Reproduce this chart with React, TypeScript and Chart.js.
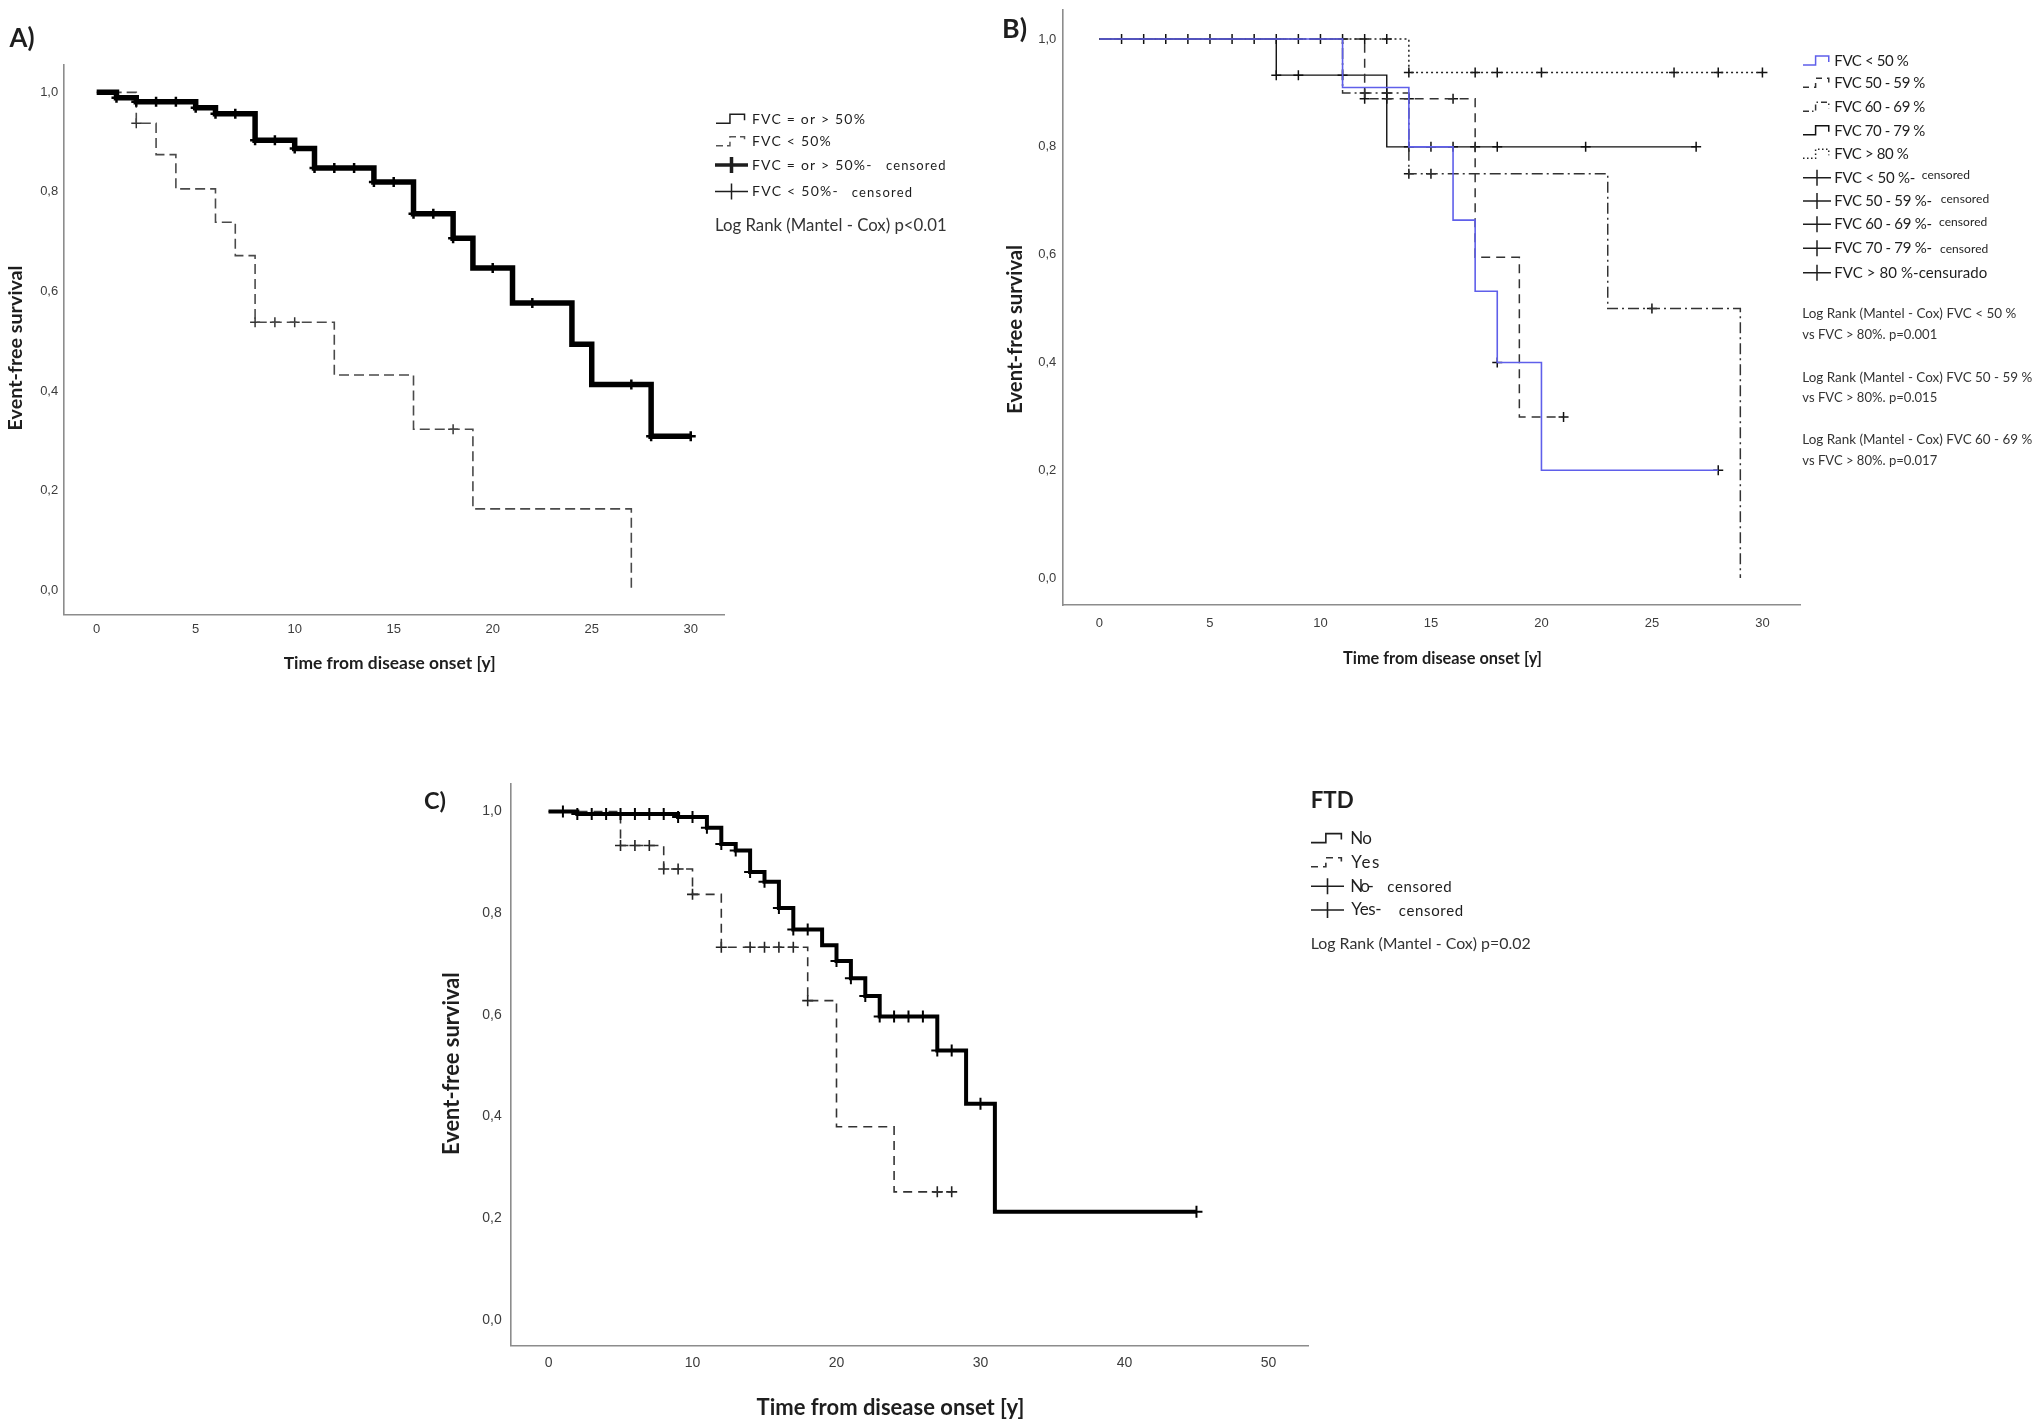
import React, { useEffect, useRef } from 'react';
import { Chart, registerables } from 'chart.js';
Chart.register(...registerables);

// ================= DATA =================
// Panel A
const aXTicks = [0, 5, 10, 15, 20, 25, 30];
const aYTicks = [0, 0.2, 0.4, 0.6, 0.8, 1.0];
const aHighTimes = [0, 1, 2, 5, 6, 8, 10, 11, 14, 16, 18, 19, 21, 24, 25, 28, 30];
const aHighSurv = [1.0, 0.989, 0.981, 0.969, 0.957, 0.904, 0.887, 0.848, 0.82, 0.756, 0.707, 0.647, 0.577, 0.494, 0.413, 0.309, 0.309];
const aHighCensTimes = [1, 2, 3, 4, 5, 6, 7, 8, 9, 10, 11, 12, 13, 14, 15, 16, 17, 18, 20, 22, 27, 28, 30];
const aHighCensSurv = [0.989, 0.981, 0.981, 0.981, 0.969, 0.957, 0.957, 0.904, 0.904, 0.887, 0.848, 0.848, 0.848, 0.82, 0.82, 0.756, 0.756, 0.707, 0.647, 0.577, 0.413, 0.309, 0.309];
const aLowTimes = [0, 2, 3, 4, 6, 7, 8, 12, 16, 19, 27];
const aLowSurv = [1.0, 0.938, 0.875, 0.806, 0.739, 0.672, 0.538, 0.432, 0.323, 0.163, 0.0];
const aLowCensTimes = [2, 8, 9, 10, 18];
const aLowCensSurv = [0.938, 0.538, 0.538, 0.538, 0.323];

// Panel B
const bXTicks = [0, 5, 10, 15, 20, 25, 30];
const bYTicks = [0, 0.2, 0.4, 0.6, 0.8, 1.0];
const bLt50Times = [0, 11, 14, 16, 17, 18, 20, 28];
const bLt50Surv = [1.0, 0.91, 0.8, 0.664, 0.532, 0.4, 0.2, 0.2];
const bLt50CensTimes = [18, 28];
const bLt50CensSurv = [0.4, 0.2];
const b5059Times = [0, 12, 17, 19, 21];
const b5059Surv = [1.0, 0.889, 0.595, 0.299, 0.299];
const b5059CensTimes = [12, 13, 14, 16, 21];
const b5059CensSurv = [0.889, 0.889, 0.889, 0.889, 0.299];
const b6069Times = [0, 11, 14, 23, 29];
const b6069Surv = [1.0, 0.9, 0.75, 0.5, 0.0];
const b6069CensTimes = [12, 13, 14, 15, 25];
const b6069CensSurv = [0.9, 0.9, 0.75, 0.75, 0.5];
const b7079Times = [0, 8, 13, 27];
const b7079Surv = [1.0, 0.933, 0.8, 0.8];
const b7079CensTimes = [8, 9, 11, 14, 15, 16, 17, 18, 22, 27];
const b7079CensSurv = [0.933, 0.933, 0.933, 0.8, 0.8, 0.8, 0.8, 0.8, 0.8, 0.8];
const bGt80Times = [0, 14, 30];
const bGt80Surv = [1.0, 0.938, 0.938];
const bGt80CensTimes = [1, 2, 3, 4, 5, 6, 7, 8, 9, 10, 11, 12, 13, 14, 17, 18, 20, 26, 28, 30];
const bGt80CensSurv = [1, 1, 1, 1, 1, 1, 1, 1, 1, 1, 1, 1, 1, 0.938, 0.938, 0.938, 0.938, 0.938, 0.938, 0.938];

// Panel C
const cXTicks = [0, 10, 20, 30, 40, 50];
const cYTicks = [0, 0.2, 0.4, 0.6, 0.8, 1.0];
const cNoTimes = [0, 2, 9, 11, 12, 13, 14, 15, 16, 17, 19, 20, 21, 22, 23, 27, 29, 31, 45];
const cNoSurv = [1.0, 0.995, 0.989, 0.968, 0.936, 0.923, 0.881, 0.862, 0.81, 0.768, 0.737, 0.706, 0.672, 0.637, 0.597, 0.53, 0.425, 0.213, 0.213];
const cNoCensTimes = [1, 2, 3, 4, 5, 6, 7, 8, 9, 10, 11, 12, 13, 14, 15, 16, 17, 18, 20, 21, 22, 23, 24, 25, 26, 27, 28, 30, 45];
const cNoCensSurv = [1.0, 0.995, 0.995, 0.995, 0.995, 0.995, 0.995, 0.995, 0.989, 0.989, 0.968, 0.936, 0.923, 0.881, 0.862, 0.81, 0.768, 0.768, 0.706, 0.672, 0.637, 0.597, 0.597, 0.597, 0.597, 0.53, 0.53, 0.425, 0.213];
const cYesTimes = [0, 5, 8, 10, 12, 18, 20, 24, 28];
const cYesSurv = [1.0, 0.933, 0.887, 0.837, 0.733, 0.628, 0.38, 0.252, 0.252];
const cYesCensTimes = [5, 6, 7, 8, 9, 10, 12, 14, 15, 16, 17, 18, 27, 28];
const cYesCensSurv = [0.933, 0.933, 0.933, 0.887, 0.887, 0.837, 0.733, 0.733, 0.733, 0.733, 0.733, 0.628, 0.252, 0.252];

// Text content
const xTitle = 'Time from disease onset [y]';
const yTitle = 'Event-free survival';
const aLegend = ['FVC = or > 50%', 'FVC < 50%', 'FVC = or > 50%-', 'FVC < 50%-'];
const bLegend = ['FVC < 50 %', 'FVC 50 - 59 %', 'FVC 60 - 69 %', 'FVC 70 - 79 %', 'FVC > 80 %', 'FVC < 50 %-', 'FVC 50 - 59 %-', 'FVC 60 - 69 %-', 'FVC 70 - 79 %-', 'FVC > 80 %-censurado'];
const bLogRank = ['Log Rank (Mantel - Cox) FVC < 50 %', 'vs FVC > 80%. p=0.001', 'Log Rank (Mantel - Cox) FVC 50 - 59 %', 'vs FVC > 80%. p=0.015', 'Log Rank (Mantel - Cox) FVC 60 - 69 %', 'vs FVC > 80%. p=0.017'];
const cLegend = ['No', 'Yes', 'No-', 'Yes-'];

// ================= DRAW HELPERS =================
const SANS = 'Lato, "Open Sans", "DejaVu Sans", sans-serif';
const TICKFONT = '"Liberation Sans", Arial, sans-serif';

type TextItem = { t: string; x: number; y: number; s: number; w?: number; b?: boolean; fit?: 'size' | 'space'; c?: string; rot?: boolean; al?: CanvasTextAlign };
type SymItem = { k: 'step' | 'cross'; x: number; y: number; w: number; c?: string; lw?: number; dash?: number[] };

function drawText(ctx: CanvasRenderingContext2D, it: TextItem) {
  let size = it.s;
  ctx.save();
  ctx.fillStyle = it.c || '#1e1e1e';
  ctx.textBaseline = 'middle';
  const setFont = () => { ctx.font = `${it.b ? 'bold ' : ''}${size}px ${SANS}`; };
  setFont();
  (ctx as any).letterSpacing = '0px';
  const m = ctx.measureText(it.t).width;
  if (it.w) {
    if (it.fit === 'space') {
      (ctx as any).letterSpacing = ((it.w - m) / it.t.length).toFixed(2) + 'px';
    } else {
      size = size * it.w / m;
      setFont();
    }
  }
  if (it.rot) {
    ctx.translate(it.x, it.y);
    ctx.rotate(-Math.PI / 2);
    ctx.textAlign = 'center';
    ctx.fillText(it.t, 0, 0);
  } else {
    ctx.textAlign = it.al || 'left';
    ctx.fillText(it.t, it.x, it.y);
  }
  ctx.restore();
}

function drawSym(ctx: CanvasRenderingContext2D, s: SymItem) {
  ctx.save();
  ctx.strokeStyle = s.c || '#1e1e1e';
  ctx.lineWidth = s.lw || 1.5;
  ctx.setLineDash(s.dash || []);
  ctx.lineJoin = 'miter';
  ctx.beginPath();
  if (s.k === 'step') {
    const xm = s.x + s.w * 0.45;
    const xe = s.x + s.w * 0.92;
    ctx.moveTo(s.x, s.y + 4);
    ctx.lineTo(xm, s.y + 4);
    ctx.lineTo(xm, s.y - 5);
    ctx.lineTo(xe, s.y - 5);
    ctx.lineTo(xe, s.y + 1);
  } else {
    ctx.moveTo(s.x, s.y);
    ctx.lineTo(s.x + s.w, s.y);
    ctx.moveTo(s.x + s.w / 2, s.y - 8);
    ctx.lineTo(s.x + s.w / 2, s.y + 8);
  }
  ctx.stroke();
  ctx.restore();
}

const pts = (t: number[], s: number[]) => t.map((v, i) => ({ x: v, y: s[i] }));

function curve(t: number[], s: number[], color: string, width: number, dash: number[] = []) {
  return {
    data: pts(t, s), stepped: 'before', borderColor: color, borderWidth: width, borderDash: dash,
    pointRadius: 0, fill: false, tension: 0, borderJoinStyle: 'miter', borderCapStyle: 'butt',
  };
}
function censor(t: number[], s: number[], color: string, width: number, radius: number) {
  return {
    data: pts(t, s), showLine: false, pointStyle: 'cross', pointRadius: radius,
    pointBorderWidth: width, borderWidth: width, borderColor: color, pointBorderColor: color, backgroundColor: color,
  };
}

type Panel = {
  area: { L: number; R: number; T: number; B: number };
  xMin: number; xMax: number; yMin: number; yMax: number;
  xTicks: number[]; yTicks: number[];
  tickSize: number; yPad: number; xPad: number;
  datasets: any[]; texts: TextItem[]; syms: SymItem[];
};

const W = 2040, H = 1426, YW = 50, XH = 40;

function build(canvas: HTMLCanvasElement, p: Panel) {
  const plugin = {
    id: 'panelText',
    afterDraw(chart: any) {
      const ctx = chart.ctx as CanvasRenderingContext2D;
      p.syms.forEach((s) => drawSym(ctx, s));
      p.texts.forEach((t) => drawText(ctx, t));
    },
  };
  return new Chart(canvas, {
    type: 'line',
    data: { datasets: p.datasets },
    options: {
      responsive: false,
      animation: false,
      devicePixelRatio: 1,
      events: [],
      layout: {
        autoPadding: false,
        padding: { left: p.area.L - YW, right: W - p.area.R, top: p.area.T, bottom: H - p.area.B - XH },
      },
      plugins: { legend: { display: false }, tooltip: { enabled: false } },
      scales: {
        x: {
          type: 'linear', min: p.xMin, max: p.xMax,
          grid: { display: false, drawTicks: false },
          border: { display: true, color: '#8c8c8c', width: 1.6 },
          ticks: { autoSkip: false, maxRotation: 0, padding: p.xPad, color: '#3c3c3c', font: { family: TICKFONT, size: p.tickSize }, callback: (v: any) => String(v) },
          afterBuildTicks: (s: any) => { s.ticks = p.xTicks.map((v) => ({ value: v })); },
          afterFit: (s: any) => { s.height = XH; s.paddingLeft = 0; s.paddingRight = 0; },
        },
        y: {
          type: 'linear', min: p.yMin, max: p.yMax,
          grid: { display: false, drawTicks: false },
          border: { display: true, color: '#8c8c8c', width: 1.6 },
          ticks: { autoSkip: false, padding: p.yPad, color: '#3c3c3c', font: { family: TICKFONT, size: p.tickSize }, callback: (v: any) => Number(v).toFixed(1).replace('.', ',') },
          afterBuildTicks: (s: any) => { s.ticks = p.yTicks.map((v) => ({ value: v })); },
          afterFit: (s: any) => { s.width = YW; s.paddingTop = 0; s.paddingBottom = 0; },
        },
      },
    } as any,
    plugins: [plugin],
  });
}

// ================= PANELS =================
const panelA: Panel = {
  area: { L: 64.2, R: 724, T: 65, B: 614.9 },
  xMin: -1.64, xMax: 31.68, yMin: -0.05, yMax: 1.055,
  xTicks: aXTicks, yTicks: aYTicks, tickSize: 13, yPad: 6, xPad: 6.7,
  datasets: [
    curve(aHighTimes, aHighSurv, '#000', 5.5),
    censor(aHighCensTimes, aHighCensSurv, '#000', 2.5, 5),
    curve(aLowTimes, aLowSurv, '#4a4a4a', 1.6, [10, 5]),
    censor(aLowCensTimes, aLowCensSurv, '#333', 1.5, 5),
  ],
  texts: [
    { t: 'A)', x: 9.5, y: 39, s: 22, b: true, w: 25 },
    { t: xTitle, x: 389.7, y: 663.5, s: 15, b: true, w: 212, al: 'center' },
    { t: yTitle, x: 15.6, y: 348, s: 15, b: true, w: 165, rot: true },
    { t: aLegend[0], x: 752, y: 119.3, s: 14, w: 114, fit: 'space' },
    { t: aLegend[1], x: 752, y: 141.7, s: 14, w: 80, fit: 'space' },
    { t: aLegend[2], x: 752, y: 165, s: 14, w: 120.6, fit: 'space' },
    { t: 'censored', x: 886, y: 166, s: 13, w: 60.7, fit: 'space' },
    { t: aLegend[3], x: 752, y: 191.5, s: 14, w: 87, fit: 'space' },
    { t: 'censored', x: 851.7, y: 192.5, s: 13, w: 61.6, fit: 'space' },
    { t: 'Log Rank (Mantel - Cox) p<0.01', x: 715, y: 226, s: 15, w: 231.7, c: '#333' },
  ],
  syms: [
    { k: 'step', x: 716, y: 119.3, w: 31, lw: 1.5 },
    { k: 'step', x: 716, y: 141.7, w: 31, lw: 1.5, dash: [7, 4], c: '#555' },
    { k: 'cross', x: 715, y: 165, w: 33, lw: 3.5 },
    { k: 'cross', x: 715, y: 191.5, w: 33, lw: 1.5 },
  ],
};

const BLUE = '#5f5fea';
const bLegY = [61, 83.3, 107.3, 130.7, 154.3, 177.7, 201, 224.3, 248.3, 272.7];
const panelB: Panel = {
  area: { L: 1062.8, R: 1800, T: 9.4, B: 605 },
  xMin: -1.66, xMax: 31.7, yMin: -0.05, yMax: 1.055,
  xTicks: bXTicks, yTicks: bYTicks, tickSize: 13, yPad: 6.5, xPad: 11,
  datasets: [
    curve(bLt50Times, bLt50Surv, BLUE, 1.6),
    censor(bLt50CensTimes, bLt50CensSurv, '#111', 1.5, 5),
    curve(b5059Times, b5059Surv, '#333', 1.5, [9, 6]),
    censor(b5059CensTimes, b5059CensSurv, '#111', 1.5, 5),
    curve(b6069Times, b6069Surv, '#333', 1.5, [11, 4, 2, 4]),
    censor(b6069CensTimes, b6069CensSurv, '#111', 1.5, 5),
    curve(b7079Times, b7079Surv, '#111', 1.4),
    censor(b7079CensTimes, b7079CensSurv, '#111', 1.5, 5),
    curve(bGt80Times, bGt80Surv, '#222', 1.5, [2, 3]),
    censor(bGt80CensTimes, bGt80CensSurv, '#111', 1.5, 5),
  ],
  texts: [
    { t: 'B)', x: 1002, y: 29.5, s: 21, b: true, w: 25 },
    { t: xTitle, x: 1442.5, y: 659, s: 15, b: true, w: 199, al: 'center' },
    { t: yTitle, x: 1015.2, y: 329.3, s: 15, b: true, w: 169, rot: true },
    { t: bLegend[0], x: 1834.3, y: bLegY[0], s: 15, w: 74, fit: 'space' },
    { t: bLegend[1], x: 1834.3, y: bLegY[1], s: 15, w: 90.7, fit: 'space' },
    { t: bLegend[2], x: 1834.3, y: bLegY[2], s: 15, w: 90.7, fit: 'space' },
    { t: bLegend[3], x: 1834.3, y: bLegY[3], s: 15, w: 90.7, fit: 'space' },
    { t: bLegend[4], x: 1834.3, y: bLegY[4], s: 15, w: 74, fit: 'space' },
    { t: bLegend[5], x: 1834.3, y: bLegY[5], s: 15, w: 80.7, fit: 'space' },
    { t: 'censored', x: 1921.7, y: 175, s: 12, w: 48.3, fit: 'space' },
    { t: bLegend[6], x: 1834.3, y: bLegY[6], s: 15, w: 97.3, fit: 'space' },
    { t: 'censored', x: 1940.7, y: 199, s: 12, w: 48.6, fit: 'space' },
    { t: bLegend[7], x: 1834.3, y: bLegY[7], s: 15, w: 97.3, fit: 'space' },
    { t: 'censored', x: 1939, y: 222.3, s: 12, w: 48.3, fit: 'space' },
    { t: bLegend[8], x: 1834.3, y: bLegY[8], s: 15, w: 97.3, fit: 'space' },
    { t: 'censored', x: 1940, y: 249.3, s: 12, w: 48.3, fit: 'space' },
    { t: bLegend[9], x: 1834.3, y: bLegY[9], s: 15, w: 153, fit: 'space' },
    { t: bLogRank[0], x: 1802.3, y: 314, s: 14, w: 214.3, c: '#333' },
    { t: bLogRank[1], x: 1802.3, y: 335, s: 14, w: 135, c: '#333' },
    { t: bLogRank[2], x: 1802.3, y: 377.3, s: 14, w: 230.3, c: '#333' },
    { t: bLogRank[3], x: 1802.3, y: 398, s: 14, w: 135, c: '#333' },
    { t: bLogRank[4], x: 1802.3, y: 440, s: 14, w: 230.3, c: '#333' },
    { t: bLogRank[5], x: 1802.3, y: 461, s: 14, w: 135, c: '#333' },
  ],
  syms: [
    { k: 'step', x: 1803, y: bLegY[0], w: 28, lw: 1.5, c: BLUE },
    { k: 'step', x: 1803, y: bLegY[1], w: 28, lw: 1.5, dash: [6, 5], c: '#333' },
    { k: 'step', x: 1803, y: bLegY[2], w: 28, lw: 1.5, dash: [6, 3, 1.5, 3], c: '#333' },
    { k: 'step', x: 1803, y: bLegY[3], w: 28, lw: 1.5, c: '#111' },
    { k: 'step', x: 1803, y: bLegY[4], w: 28, lw: 1.5, dash: [1.5, 2.5], c: '#222' },
    { k: 'cross', x: 1803, y: bLegY[5], w: 28, lw: 1.5 },
    { k: 'cross', x: 1803, y: bLegY[6], w: 28, lw: 1.5 },
    { k: 'cross', x: 1803, y: bLegY[7], w: 28, lw: 1.5 },
    { k: 'cross', x: 1803, y: bLegY[8], w: 28, lw: 1.5 },
    { k: 'cross', x: 1803, y: bLegY[9], w: 28, lw: 1.5 },
  ],
};

const cLegY = [838.6, 862.8, 886.2, 910];
const panelC: Panel = {
  area: { L: 510.8, R: 1308.2, T: 783.5, B: 1345.4 },
  xMin: -2.62, xMax: 52.76, yMin: -0.05, yMax: 1.055,
  xTicks: cXTicks, yTicks: cYTicks, tickSize: 14, yPad: 9, xPad: 9,
  datasets: [
    curve(cNoTimes, cNoSurv, '#000', 4),
    censor(cNoCensTimes, cNoCensSurv, '#000', 2, 6),
    curve(cYesTimes, cYesSurv, '#333', 1.6, [9, 6]),
    censor(cYesCensTimes, cYesCensSurv, '#222', 1.6, 5.5),
  ],
  texts: [
    { t: 'C)', x: 424, y: 801.5, s: 22, b: true, w: 22 },
    { t: xTitle, x: 890.5, y: 1407.8, s: 18, b: true, w: 268, al: 'center' },
    { t: yTitle, x: 451.6, y: 1063.6, s: 18, b: true, w: 182.6, rot: true },
    { t: 'FTD', x: 1310.7, y: 800.4, s: 20, b: true, w: 43 },
    { t: cLegend[0], x: 1350.2, y: cLegY[0], s: 17, w: 21, fit: 'space' },
    { t: cLegend[1], x: 1351.3, y: cLegY[1], s: 17, w: 29.5, fit: 'space' },
    { t: cLegend[2], x: 1350.2, y: cLegY[2], s: 17, w: 21, fit: 'space' },
    { t: 'censored', x: 1387.3, y: cLegY[2] + 1, s: 15, w: 65, fit: 'space' },
    { t: cLegend[3], x: 1351.3, y: cLegY[3], s: 17, w: 30, fit: 'space' },
    { t: 'censored', x: 1398.8, y: cLegY[3] + 1, s: 15, w: 65, fit: 'space' },
    { t: 'Log Rank (Mantel - Cox) p=0.02', x: 1310.7, y: 943.5, s: 15, w: 220, c: '#333' },
  ],
  syms: [
    { k: 'step', x: 1311, y: cLegY[0], w: 33, lw: 1.6 },
    { k: 'step', x: 1311, y: cLegY[1], w: 33, lw: 1.6, dash: [7, 5], c: '#333' },
    { k: 'cross', x: 1311, y: cLegY[2], w: 33, lw: 1.6 },
    { k: 'cross', x: 1311, y: cLegY[3], w: 33, lw: 1.6 },
  ],
};

export default function App() {
  const refA = useRef<HTMLCanvasElement>(null);
  const refB = useRef<HTMLCanvasElement>(null);
  const refC = useRef<HTMLCanvasElement>(null);
  useEffect(() => {
    document.body.style.margin = '0';
    const charts = [
      build(refA.current!, panelA),
      build(refB.current!, panelB),
      build(refC.current!, panelC),
    ];
    return () => charts.forEach((c) => c.destroy());
  }, []);
  const cs: React.CSSProperties = { position: 'absolute', left: 0, top: 0, width: W, height: H };
  return (
    <div style={{ position: 'absolute', left: 0, top: 0, width: W, height: H, background: '#fff', overflow: 'hidden' }}>
      <canvas ref={refA} width={W} height={H} style={cs} />
      <canvas ref={refB} width={W} height={H} style={cs} />
      <canvas ref={refC} width={W} height={H} style={cs} />
    </div>
  );
}
